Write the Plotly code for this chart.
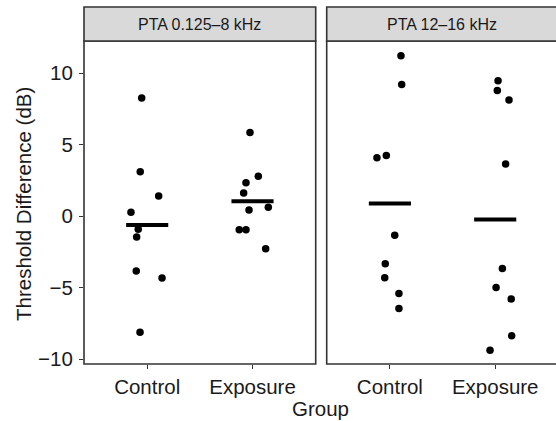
import numpy as np
import plotly.graph_objects as go

groups = ["Control", "Exposure"]
panels = ["PTA 0.125–8 kHz", "PTA 12–16 kHz"]

low_control = [8.27, 3.10, 1.40, 0.26, -0.93, -1.47, -3.85, -4.34, -8.13]
low_control_jit = [-0.052, -0.066, 0.109, -0.154, -0.085, -0.100, -0.104, 0.141, -0.068]
low_exposure = [5.85, 2.78, 2.33, 1.61, 0.42, 0.61, -0.96, -0.96, -2.29]
low_exposure_jit = [-0.024, 0.055, -0.062, -0.084, -0.033, 0.150, -0.126, -0.062, 0.125]

high_control = [11.21, 9.21, 4.08, 4.24, -1.35, -3.33, -4.31, -5.41, -6.46]
high_control_jit = [0.105, 0.112, -0.123, -0.034, 0.046, -0.044, -0.049, 0.086, 0.086]
high_exposure = [9.46, 8.79, 8.13, 3.64, -3.66, -4.99, -5.80, -8.37, -9.39]
high_exposure_jit = [0.027, 0.020, 0.131, 0.099, 0.068, 0.008, 0.152, 0.156, -0.049]

y_ticks = [-10, -5, 0, 5, 10]

panel_data = [
    [(low_control, low_control_jit), (low_exposure, low_exposure_jit)],
    [(high_control, high_control_jit), (high_exposure, high_exposure_jit)],
]

fig = go.Figure()
axes = [("x", "y"), ("x2", "y2")]
for p, (xa, ya) in enumerate(axes):
    for g, (vals, jit) in enumerate(panel_data[p]):
        pos = g + 1
        fig.add_trace(go.Scatter(
            x=[pos + j for j in jit], y=vals, mode="markers",
            marker=dict(color="black", size=7.5, line=dict(width=0)),
            xaxis=xa, yaxis=ya, showlegend=False, hoverinfo="skip"))
        m = float(np.mean(vals))
        fig.add_trace(go.Scatter(
            x=[pos - 0.2, pos + 0.2], y=[m, m], mode="lines",
            line=dict(color="black", width=4),
            xaxis=xa, yaxis=ya, showlegend=False, hoverinfo="skip"))

W, H = 556, 421
L, T, B = 84, 41, 57
pw = W - L
ph = H - T - B
d1 = (315.7 - L) / pw
d2 = (326.7 - L) / pw
yr = [-10.35, 12.25]

font_txt = "Liberation Sans, Arial, sans-serif"
tickfont = dict(family=font_txt, size=20.5, color="#1a1a1a")
common_x = dict(tickmode="array", tickvals=[1, 2], ticktext=groups,
                ticks="outside", ticklen=4, tickwidth=1.2, tickcolor="#333333",
                showgrid=False, zeroline=False, showline=False, tickfont=tickfont,
                fixedrange=True)
fig.update_layout(
    width=W, height=H,
    margin=dict(l=L, r=0, t=T, b=B, pad=0),
    paper_bgcolor="white", plot_bgcolor="white",
    xaxis=dict(domain=[0, d1], range=[0.4, 2.6], anchor="y", **common_x),
    xaxis2=dict(domain=[d2, 1], range=[0.4, 0.4 + (W - 326.7) / (d1 * pw / 2.2)], anchor="y2", **common_x),
    yaxis=dict(domain=[0, 1], range=yr, tickvals=y_ticks, ticks="outside", ticklen=4,
               tickwidth=1.2, tickcolor="#333333", showgrid=False, zeroline=False,
               showline=False, tickfont=tickfont, ticklabelstandoff=2),
    yaxis2=dict(domain=[0, 1], range=yr, anchor="x2", matches="y", showticklabels=False,
                ticks="", showgrid=False, zeroline=False, showline=False),
)

strip_top = 1 + (T - 7) / ph
border = "#333333"
for xa in ["x", "x2"]:
    xr = xa + " domain"
    x1 = 1 if xa == "x" else 1.05
    fig.add_shape(type="rect", xref=xr, yref="paper", x0=0, x1=x1, y0=0, y1=1,
                  line=dict(color=border, width=1.6), fillcolor="rgba(0,0,0,0)", layer="above")
    fig.add_shape(type="rect", xref=xr, yref="paper", x0=0, x1=x1, y0=1, y1=strip_top,
                  line=dict(color=border, width=1.6), fillcolor="#d9d9d9", layer="above")

for xa, cx, label in [("x", 0.5, panels[0]), ("x2", (442.5 - 326.7) / (W - 326.7), panels[1])]:
    fig.add_annotation(xref=xa + " domain", yref="paper", x=cx, y=(1 + strip_top) / 2,
                       text=label, showarrow=False, xanchor="center", yanchor="middle",
                       font=dict(family=font_txt, size=16, color="#1a1a1a"))

fig.add_annotation(xref="paper", yref="paper", x=(23 - L) / pw, y=(H - B - 204) / ph,
                   text="Threshold Difference (dB)", textangle=-90, showarrow=False,
                   xanchor="center", yanchor="middle",
                   font=dict(family=font_txt, size=20.5, color="#1a1a1a"))
fig.add_annotation(xref="paper", yref="paper", x=(320.5 - L) / pw, y=-(408 - (H - B)) / ph,
                   text="Group", showarrow=False, xanchor="center", yanchor="middle",
                   font=dict(family=font_txt, size=20.5, color="#1a1a1a"))

fig.write_html("out.html")
